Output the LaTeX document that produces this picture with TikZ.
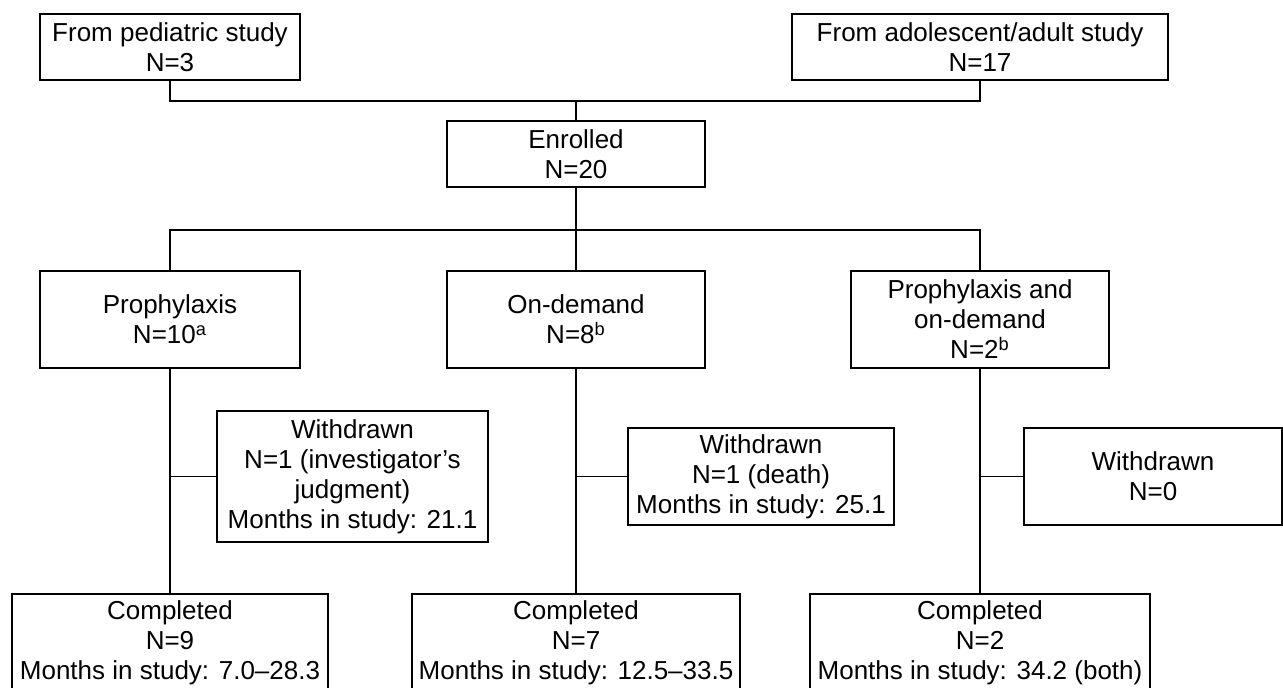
\documentclass[tikz,border=0pt]{standalone}
\usepackage{fontspec}
\setmainfont{Liberation Sans}
\begin{document}
\begin{tikzpicture}[x=0.5pt,y=-0.5pt,
  caja/.style={draw, line width=0.65pt, align=center, inner sep=0pt,
    font=\fontsize{13}{15}\selectfont},
  linea/.style={line width=0.65pt}]
\path[use as bounding box, clip] (0,0) rectangle (1283,687);

% Origen
\node [caja, minimum width=130pt, minimum height=33pt] (ped) at (170,47) {From pediatric study\\N=3};
\node [caja, minimum width=188pt, minimum height=33pt] (ado) at (980,47) {From adolescent/adult study\\N=17};
\node [caja, minimum width=129pt, minimum height=33pt] (enr) at (576,154) {Enrolled\\N=20};

% Grupos de tratamiento
\node [caja, minimum width=130pt, minimum height=48.5pt] (pro) at (170,319.5) {Prophylaxis\\N=10\textsuperscript{a}};
\node [caja, minimum width=129pt, minimum height=48.5pt] (ond) at (576,319.5) {On-demand\\N=8\textsuperscript{b}};
\node [caja, minimum width=129pt, minimum height=48.5pt] (pod) at (980,319.5) {Prophylaxis and\\on-demand\\N=2\textsuperscript{b}};

% Retirados
\node [caja, minimum width=135.5pt, minimum height=65.5pt] (ret1) at (352.5,476.5) {Withdrawn\\N=1 (investigator’s\\judgment)\\Months in study: 21.1};
\node [caja, minimum width=133pt, minimum height=48.5pt] (ret2) at (761,476.5) {Withdrawn\\N=1 (death)\\Months in study: 25.1};
\node [caja, minimum width=129pt, minimum height=48.5pt] (ret3) at (1153,476.5) {Withdrawn\\N=0};

% Completados
\node [caja, minimum width=158pt, minimum height=49pt] (com1) at (170,643) {Completed\\N=9\\Months in study: 7.0–28.3};
\node [caja, minimum width=164pt, minimum height=49pt] (com2) at (576,643) {Completed\\N=7\\Months in study: 12.5–33.5};
\node [caja, minimum width=170pt, minimum height=49pt] (com3) at (980,643) {Completed\\N=2\\Months in study: 34.2 (both)};

% Conexiones
\coordinate (j1) at (576,101);
\coordinate (j2) at (576,230);
\draw [linea] (ped.south) |- (j1) -| (ado.south);
\draw [linea] (j1) -- (enr.north);
\draw [linea] (enr.south) -- (ond.north);
\draw [linea] (pro.north) |- (j2) -| (pod.north);
\draw [linea] (pro.south) -- (com1.north);
\draw [linea] (ond.south) -- (com2.north);
\draw [linea] (pod.south) -- (com3.north);
\draw [linea] (ret1.west) -- (pro.south |- ret1.west);
\draw [linea] (ret2.west) -- (ond.south |- ret2.west);
\draw [linea] (ret3.west) -- (pod.south |- ret3.west);
\end{tikzpicture}
\end{document}
